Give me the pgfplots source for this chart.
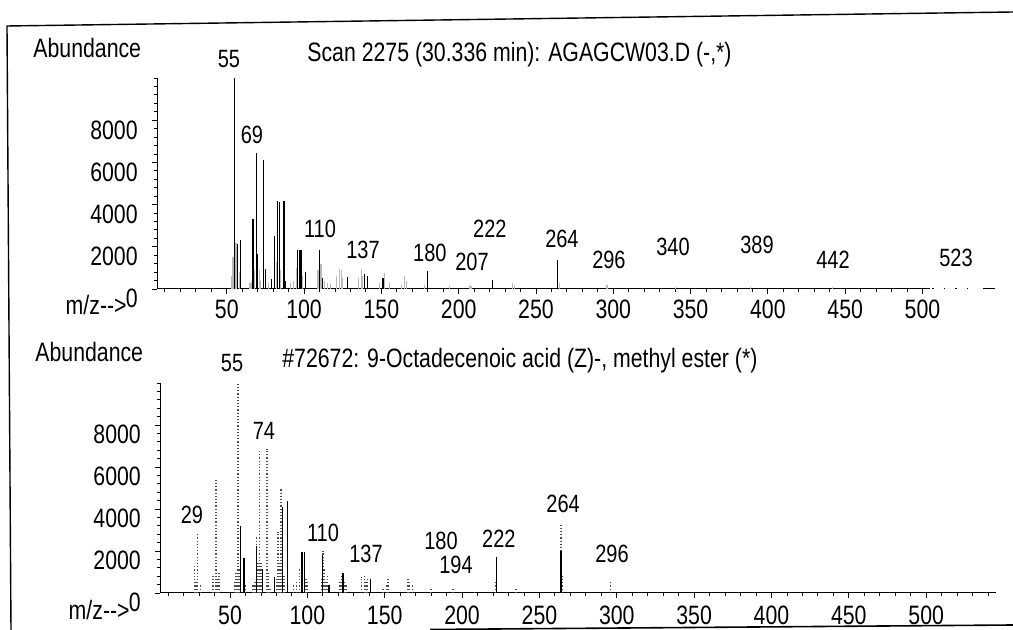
\documentclass[border=0pt]{standalone}
\usepackage{fontspec}
\setmainfont{Liberation Sans}[FakeStretch=0.8]
\usepackage{pgfplots}
\pgfplotsset{compat=1.18}

\newcommand{\tkfont}{\fontsize{13.3}{15}\selectfont}
\newcommand{\pkfont}{\fontsize{12.5}{14}\selectfont}

\pgfplotsset{
  ms/.style={
    scale only axis, clip=false,
    axis x line=bottom, axis y line=left,
    axis line style={-, line width=0.5pt},
    ymin=0, ymax=10000,
    ytick={0,2000,4000,6000,8000},
    minor ytick={400,800,...,10000},
    xtick={50,100,...,500},
    tick align=outside,
    major tick length=2.6pt, minor tick length=1.5pt,
    every tick/.style={black, line width=0.45pt},
    scaled y ticks=false,
    /pgf/number format/assume math mode=true,
    /pgf/number format/1000 sep={},
    ticklabel style={font=\tkfont},
    yticklabel style={anchor=north east, inner sep=0pt, xshift=-7pt},
    xticklabel style={anchor=north, inner sep=0pt, yshift=-2.5pt},
  },
  pk/.style={ycomb, mark=none, line width=0.6pt},
}

\begin{document}
\begin{tikzpicture}[x=0.5pt, y=-0.5pt]
\path[use as bounding box] (0,0) rectangle (1013,630);

% frame of the printout
\draw[line width=0.7pt] (11,630) -- (7,26) -- (1013,12);
\draw[line width=0.8pt] (430,629.5) -- (1013,625);

% ---- sample spectrum ----
\begin{axis}[ms, at={(78.6pt,-144.5pt)}, anchor=south west,
  width=386.5pt, height=105.5pt, xmin=5, xmax=505,
  minor xtick={10,20,...,500}]
\addplot[pk, gray!55] coordinates {
 (53,600) (54,1500) (56,2200) (58,800) (65,300) (66,350) (68,900) (71,900)
 (72,400) (77,300) (82,1300) (85,900) (91,300) (93,400) (95,1000) (99,600)
 (109,900) (111,1200) (113,400) (115,300) (117,250) (121,600) (123,930)
 (124,900) (125,500) (135,500) (137,930) (138,600) (149,300) (152,780)
 (155,300) (163,200) (165,620) (166,400) (178,200) (194,150) (207,200)
 (208,150) (235,300) (236,200) (265,300) (296,200) (340,100) (389,100) (442,80)};
\addplot[pk, black] coordinates {
 (55,10000) (57,2150) (59,2300) (67,3300) (69,6450) (70,1650) (74,6100)
 (75,940) (79,480) (81,2500) (83,4170) (84,4100) (87,4150) (88,400)
 (96,1850) (97,1850) (98,1850) (101,790) (110,1850) (112,500) (128,550)
 (139,700) (141,600) (151,500) (180,830) (222,430) (264,1370)};
\begin{scope}[every node/.style={anchor=base, font=\pkfont}]
\node at (axis cs:51.4,10474) {55};
\node at (axis cs:66.3,6919) {69};
\node at (axis cs:110.3,2417) {110};
\node at (axis cs:138.1,1469) {137};
\node at (axis cs:181.4,1280) {180};
\node at (axis cs:208.6,900) {207};
\node at (axis cs:220.2,2464) {222};
\node at (axis cs:266.8,1943) {264};
\node at (axis cs:297.2,995) {296};
\node at (axis cs:338.6,1564) {340};
\node at (axis cs:393,1659) {389};
\node at (axis cs:442.1,995) {442};
\node at (axis cs:521.7,1043) {523};
\end{scope}
\end{axis}
\draw[line width=0.5pt, dash pattern=on 0.8pt off 5pt] (932,289) -- (975,289);
\draw[line width=0.5pt] (983,289) -- (995,289);

% ---- library spectrum ----
\begin{axis}[ms, at={(80.2pt,-296.5pt)}, anchor=south west,
  width=417.7pt, height=105pt, xmin=5, xmax=545,
  minor xtick={10,20,...,540},
  xticklabel style={yshift=-1pt}]
\addplot[pk, black!70, densely dotted, line width=0.75pt] coordinates {
 (27,1300) (28,600) (29,2850) (31,400) (39,900) (41,5380) (42,700) (43,1000)
 (53,600) (54,1000) (55,10000) (56,1200) (60,400) (65,400) (66,600) (67,2700)
 (68,1500) (69,6810) (70,1500) (74,6860) (75,1000) (76,300) (80,700) (81,2900)
 (82,1500) (83,4950) (85,900) (91,400) (93,600) (95,1200) (99,700) (100,500)
 (109,700) (110,2000) (111,1200) (112,600) (113,800) (121,500) (122,800)
 (124,500) (125,400) (135,780) (137,860) (138,500) (139,700) (149,300)
 (151,400) (152,700) (165,650) (166,500) (168,400) (180,300) (194,200)
 (208,150) (222,500) (235,200) (264,3320) (265,800) (296,600)};
\addplot[pk, black] coordinates {
 (57,3200) (59,1650) (67,2240) (71,1130) (79,750) (84,4100) (87,4400)
 (96,1970) (97,1970) (98,1970) (110,1800) (114,400) (123,940) (141,650)
 (222,1700) (264,2000)};
\begin{scope}[every node/.style={anchor=base, font=\pkfont}]
\node at (axis cs:51.3,10524) {55};
\node at (axis cs:71.9,7333) {74};
\node at (axis cs:25.4,3333) {29};
\node at (axis cs:110.1,2429) {110};
\node at (axis cs:137.9,1476) {137};
\node at (axis cs:186.4,2095) {180};
\node at (axis cs:196.1,905) {194};
\node at (axis cs:223.8,2143) {222};
\node at (axis cs:265.3,3857) {264};
\node at (axis cs:296.9,1429) {296};
\end{scope}
\end{axis}

% ---- texts ----
\begin{scope}[every node/.style={font=\tkfont, inner sep=0pt}]
\node[anchor=base west] at (33,58) {Abundance};
\node[anchor=base west] at (307,62) {Scan 2275 (30.336 min): AGAGCW03.D (-,*)};
\node[anchor=base east] at (127,315) {m/z-{}-{}>};
\node[anchor=base west] at (35,362) {Abundance};
\node[anchor=base west] at (282,368) {\#72672: 9-Octadecenoic acid (Z)-, methyl ester (*)};
\node[anchor=base east] at (130,620) {m/z-{}-{}>};
\end{scope}
\end{tikzpicture}
\end{document}
